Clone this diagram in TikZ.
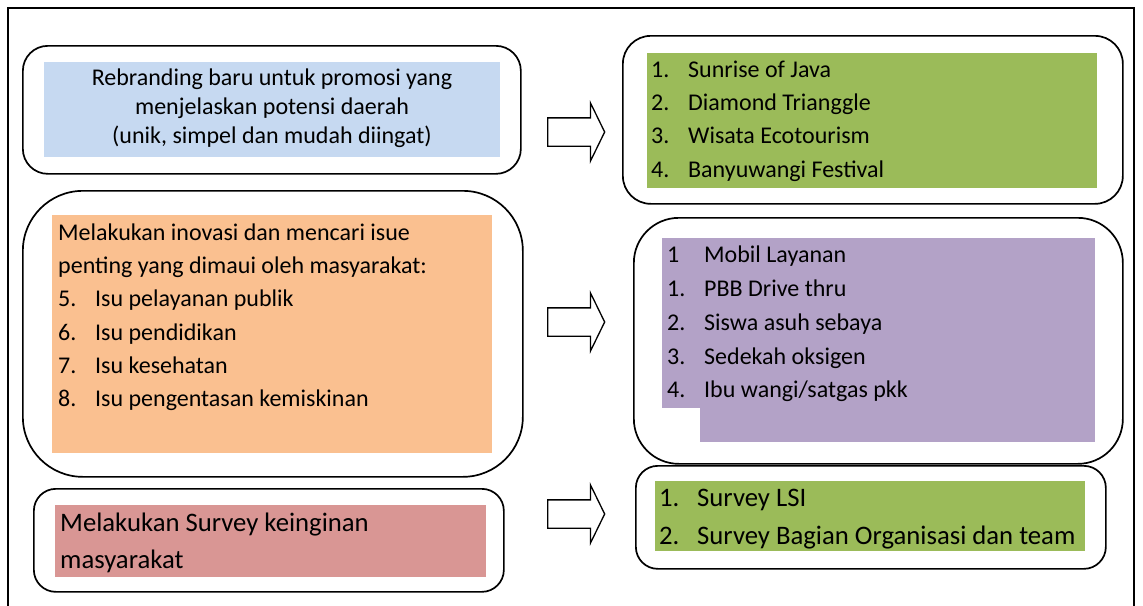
\documentclass[tikz,border=0pt]{standalone}
\usepackage{fontspec}
\setmainfont{Carlito}
\usetikzlibrary{shapes.arrows, positioning}

\definecolor{bluefill}{HTML}{C6D9F1}
\definecolor{orangefill}{HTML}{FAC090}
\definecolor{redfill}{HTML}{D99694}
\definecolor{greenfill}{HTML}{9BBB59}
\definecolor{purplefill}{HTML}{B3A2C7}

\begin{document}
\begin{tikzpicture}[x=1pt, y=-1pt,
    roundbox/.style={draw, line width=1.7pt, rounded corners=#1, anchor=north west, inner sep=0pt},
    shade/.style={anchor=north west, inner sep=0pt},
    item/.style={anchor=base west, inner sep=0pt, font=\fontsize{24}{29}\selectfont},
    bigitem/.style={item, font=\fontsize{26.7}{32}\selectfont},
    blockarrow/.style={single arrow, draw, line width=1.3pt, anchor=tail, inner sep=0pt, inner ysep=13.5pt,
        minimum height=57pt, minimum width=57pt, single arrow head extend=15pt, single arrow tip angle=128}]
        \useasboundingbox (0,0) rectangle (1143,605);
        \clip (0,0) rectangle (1143,605);
        \draw[line width=1.7pt] (8,8) rectangle (1134,640);

        % left column
        \node[roundbox=25, minimum width=498, minimum height=128] (boxA) at (22,45) {};
        \node[roundbox=60, minimum width=500, minimum height=286] (boxB) at (22,190) {};
        \node[roundbox=22, minimum width=470, minimum height=103] (boxC) at (33,488) {};

        \node[shade, fill=bluefill, minimum width=456, minimum height=95] (blue) at (44,62) {};
        \node[shade, fill=orangefill, minimum width=440, minimum height=238] (orange) at (52,215) {};
        \node[shade, fill=redfill, minimum width=431, minimum height=72] (red) at (55,505) {};

        \node[item, anchor=base] (rb1) at (272,85) {Rebranding baru untuk promosi yang};
        \node[item, anchor=base] (rb2) at (272,114) {menjelaskan potensi daerah};
        \node[item, anchor=base] (rb3) at (272,143) {(unik, simpel dan mudah diingat)};

        \node[item] (in1) at (58,240) {Melakukan inovasi dan mencari isue};
        \node[item] (in2) at (58,273) {penting yang dimaui oleh masyarakat:};
        \node[item] (in3) at (58,306) {\makebox[37pt][l]{5.}Isu pelayanan publik};
        \node[item] (in4) at (58,340) {\makebox[37pt][l]{6.}Isu pendidikan};
        \node[item] (in5) at (58,373) {\makebox[37pt][l]{7.}Isu kesehatan};
        \node[item] (in6) at (58,406) {\makebox[37pt][l]{8.}Isu pengentasan kemiskinan};

        \node[bigitem] (sv1) at (60,531) {Melakukan Survey keinginan};
        \node[bigitem] (sv2) at (60,568) {masyarakat};

        % arrows
        \node[blockarrow] (arrA) at (547,132) {};
        \node[blockarrow] (arrB) at (547,322) {};
        \node[blockarrow] (arrC) at (547,514) {};

        % right column
        \node[roundbox=28, minimum width=500, minimum height=168] (boxD) at (622,35) {};
        \node[roundbox=45, minimum width=489, minimum height=246] (boxE) at (633,217) {};
        \node[roundbox=22, minimum width=470, minimum height=103] (boxF) at (635,465) {};

        \node[shade, fill=greenfill, minimum width=450, minimum height=135] (green) at (647,53) {};
        \node[shade, fill=purplefill, minimum width=433, minimum height=170] (purple) at (662,238) {};
        \node[shade, fill=purplefill, minimum width=395, minimum height=34] (purplelow) at (700,408) {};
        \node[shade, fill=greenfill, minimum width=430, minimum height=70] (greenlow) at (655,481) {};

        \node[item] (br1) at (651,77) {\makebox[37pt][l]{1.}Sunrise of Java};
        \node[item] (br2) at (651,110) {\makebox[37pt][l]{2.}Diamond Trianggle};
        \node[item] (br3) at (651,143) {\makebox[37pt][l]{3.}Wisata Ecotourism};
        \node[item] (br4) at (651,177) {\makebox[37pt][l]{4.}Banyuwangi Festival};

        \node[item] (pg1) at (667,262) {\makebox[37pt][l]{1}Mobil Layanan};
        \node[item] (pg2) at (667,296) {\makebox[37pt][l]{1.}PBB Drive thru};
        \node[item] (pg3) at (667,330) {\makebox[37pt][l]{2.}Siswa asuh sebaya};
        \node[item] (pg4) at (667,364) {\makebox[37pt][l]{3.}Sedekah oksigen};
        \node[item] (pg5) at (667,397) {\makebox[37pt][l]{4.}Ibu wangi/satgas pkk};

        \node[bigitem] (ls1) at (659,506) {\makebox[38pt][l]{1.}Survey LSI};
        \node[bigitem] (ls2) at (659,544) {\makebox[38pt][l]{2.}Survey Bagian Organisasi dan team};
    \end{tikzpicture}
\end{document}
